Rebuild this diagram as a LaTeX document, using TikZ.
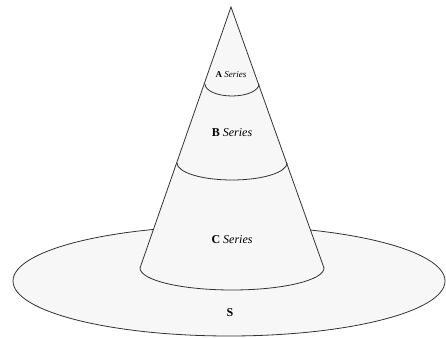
\documentclass[tikz,border=0pt]{standalone}
\usepackage{fontspec}
\setmainfont{Liberation Serif}
\begin{document}
\begin{tikzpicture}[x=1pt,y=1pt,line width=0.8pt]
\useasboundingbox (0,0) rectangle (446,337);
\tikzset{part/.style={draw=black!80, fill=gray!6}}
\coordinate (T) at (231,330);
\coordinate (L) at (140,69);
\coordinate (R) at (324,69);

\draw[part] (229,56) ellipse [x radius=216, y radius=55];
\draw[part] (T) -- (L) arc [start angle=180, end angle=360, x radius=92, y radius=22] -- cycle;
\draw[black!80] (177,174) arc [start angle=180, end angle=360, x radius=55, y radius=17];
\draw[black!80] (205,253) arc [start angle=180, end angle=360, x radius=27, y radius=12];

\node[font=\fontsize{9}{10}\selectfont] (A) at (231,262) {\textbf{A} \textit{Series}};
\node[font=\fontsize{12}{14}\selectfont] (B) at (232,204) {\textbf{B} \textit{Series}};
\node[font=\fontsize{12}{14}\selectfont] (C) at (232,97) {\textbf{C} \textit{Series}};
\node[font=\fontsize{12}{14}\selectfont] (S) at (230,24) {\textbf{S}};
\end{tikzpicture}
\end{document}
